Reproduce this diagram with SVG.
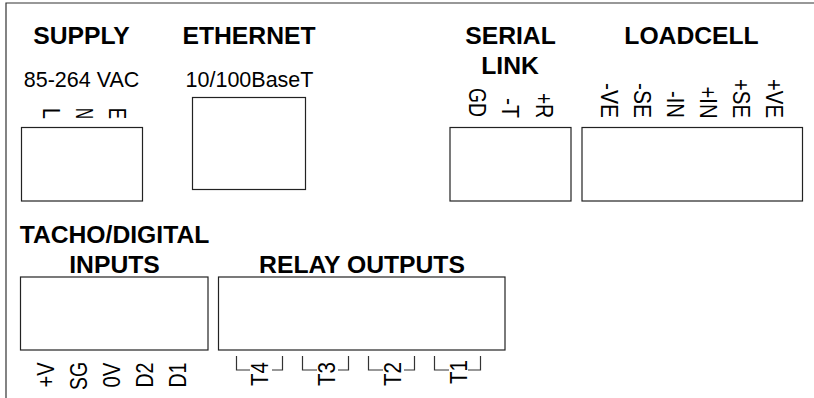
<svg xmlns="http://www.w3.org/2000/svg" width="814" height="398" viewBox="0 0 814 398">
<style>
text{font-family:"Liberation Sans",Arial,sans-serif;fill:#000}
.h{font-size:24.7px;font-weight:700;text-anchor:middle}
.s{font-size:21.5px;text-anchor:middle}
.r{font-size:23.5px}
.b{fill:#fff;stroke:#222;stroke-width:1.2}
.l{fill:none;stroke:#333;stroke-width:1.2}
</style>
<rect width="814" height="398" fill="#fff"/>
<path class="l" d="M814 3H6V398"/>
<g id="supply">
<text class="h" x="81.500" y="44">SUPPLY</text>
<text class="s" x="81.500" y="87">85-264 VAC</text>
<text class="r" textLength="11" lengthAdjust="spacingAndGlyphs" transform="translate(42.500 108) rotate(90)">L</text>
<text class="r" textLength="11" lengthAdjust="spacingAndGlyphs" transform="translate(75.500 108) rotate(90)">N</text>
<text class="r" textLength="11" lengthAdjust="spacingAndGlyphs" transform="translate(109 108) rotate(90)">E</text>
<rect class="b" x="21.500" y="127.500" width="121" height="73.500"/>
</g>
<g id="ethernet">
<text class="h" x="249" y="44">ETHERNET</text>
<text class="s" x="249.500" y="87">10/100BaseT</text>
<rect class="b" x="192.500" y="97.500" width="113" height="92"/>
</g>
<g id="serial">
<text class="h" x="510.500" y="44">SERIAL</text>
<text class="h" x="510" y="74">LINK</text>
<text class="r" textLength="29" lengthAdjust="spacingAndGlyphs" transform="translate(469 88) rotate(90)">GD</text>
<text class="r" textLength="20" lengthAdjust="spacingAndGlyphs" transform="translate(502 98) rotate(90)">-T</text>
<text class="r" textLength="25" lengthAdjust="spacingAndGlyphs" transform="translate(535.500 93) rotate(90)">+R</text>
<rect class="b" x="450" y="127.500" width="121" height="73.500"/>
</g>
<g id="loadcell">
<text class="h" x="691.500" y="44">LOADCELL</text>
<text class="r" textLength="35" lengthAdjust="spacingAndGlyphs" transform="translate(601 83) rotate(90)">-VE</text>
<text class="r" textLength="35" lengthAdjust="spacingAndGlyphs" transform="translate(633.500 83) rotate(90)">-SE</text>
<text class="r" textLength="27" lengthAdjust="spacingAndGlyphs" transform="translate(666.500 91) rotate(90)">-IN</text>
<text class="r" textLength="32" lengthAdjust="spacingAndGlyphs" transform="translate(700 86.500) rotate(90)">+IN</text>
<text class="r" textLength="39" lengthAdjust="spacingAndGlyphs" transform="translate(732.500 79) rotate(90)">+SE</text>
<text class="r" textLength="39" lengthAdjust="spacingAndGlyphs" transform="translate(766 79) rotate(90)">+VE</text>
<rect class="b" x="582" y="127.500" width="220.500" height="73.500"/>
</g>
<g id="tacho">
<text class="h" x="114.500" y="243">TACHO/DIGITAL</text>
<text class="h" x="114.500" y="272.500">INPUTS</text>
<rect class="b" x="20.500" y="277" width="187.500" height="73"/>
<text class="r" textLength="25" lengthAdjust="spacingAndGlyphs" transform="translate(53.500 387.500) rotate(-90)">+V</text>
<text class="r" textLength="28" lengthAdjust="spacingAndGlyphs" transform="translate(87 390) rotate(-90)">SG</text>
<text class="r" textLength="25" lengthAdjust="spacingAndGlyphs" transform="translate(119.500 387.500) rotate(-90)">0V</text>
<text class="r" textLength="25" lengthAdjust="spacingAndGlyphs" transform="translate(153 387.500) rotate(-90)">D2</text>
<text class="r" textLength="25" lengthAdjust="spacingAndGlyphs" transform="translate(185.500 387.500) rotate(-90)">D1</text>
</g>
<g id="relay">
<text class="h" x="362" y="272.500">RELAY OUTPUTS</text>
<rect class="b" x="218.500" y="277" width="286.500" height="73"/>
<text class="r" textLength="24" lengthAdjust="spacingAndGlyphs" transform="translate(268 386) rotate(-90)">T4</text>
<text class="r" textLength="24" lengthAdjust="spacingAndGlyphs" transform="translate(335 386) rotate(-90)">T3</text>
<text class="r" textLength="24" lengthAdjust="spacingAndGlyphs" transform="translate(401 386) rotate(-90)">T2</text>
<text class="r" textLength="24" lengthAdjust="spacingAndGlyphs" transform="translate(467 384) rotate(-90)">T1</text>
</g>
<g id="connectors">
<path class="l" d="M236.500 356V370H250M272 370H282.500V356"/>
<path class="l" d="M302.500 356V370H317M338 370H348.500V356"/>
<path class="l" d="M368.500 356V370H383M404 370H414.500V356"/>
<path class="l" d="M434.500 356V370H449M468 370H480.500V356"/>
</g>
</svg>
